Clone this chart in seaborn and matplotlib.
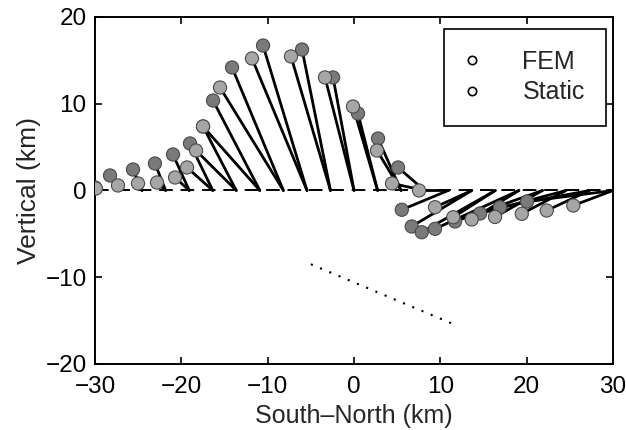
import numpy as np
import pandas as pd
import matplotlib
matplotlib.use('Agg')
import matplotlib.pyplot as plt
from matplotlib.lines import Line2D
import seaborn as sns

# surface points before deformation (km along profile, at zero height)
base_x = [-30.0, -27.27, -24.55, -21.82, -19.09, -16.36, -13.64, -10.91, -8.18, -5.45, -2.73, 0.0,
          2.73, 5.45, 8.18, 10.91, 13.64, 16.36, 19.09, 21.82, 24.55, 27.27, 30.0]

# displaced positions, FEM solution
fem_x = [-30.0, -28.26, -25.6, -23.06, -20.97, -19.0, -17.49, -16.33, -14.13, -10.54, -6.02, -2.43,
         0.46, 2.78, 5.10, 5.53, 6.68, 7.84, 9.38, 11.70, 14.6, 16.91, 20.04]
fem_y = [0.35, 1.73, 2.42, 3.11, 4.15, 5.42, 7.38, 10.37, 14.18, 16.71, 16.25, 13.03,
         8.88, 5.99, 2.65, -2.22, -4.15, -4.81, -4.42, -3.57, -2.65, -1.93, -1.27]

# displaced positions, static solution
static_x = [-29.9, -27.34, -25.02, -22.82, -20.73, -19.34, -18.3, -17.49, -15.52, -11.82, -7.30, -3.36,
            -0.12, 2.66, 4.40, 7.53, 9.38, 11.50, 13.63, 16.33, 19.43, 22.32, 25.40]
static_y = [0.23, 0.58, 0.81, 0.92, 1.5, 2.65, 4.61, 7.38, 11.87, 15.22, 15.45, 13.03,
            9.68, 4.61, 0.81, 0.0, -1.93, -3.08, -3.34, -3.05, -2.69, -2.31, -1.73]

# dotted fault trace
fault_x = [-5.0, 11.5]
fault_y = [-8.5, -15.4]

sns.set_theme(style='ticks')
plt.rcParams['font.family'] = ['Liberation Sans', 'DejaVu Sans']

# long-form table of the displacement segments
rows = []
for i, x0 in enumerate(base_x):
    for name, xs, ys in [('FEM', fem_x, fem_y), ('Static', static_x, static_y)]:
        seg = f'{name}_{i}'
        rows.append({'x': x0, 'y': 0.0, 'seg': seg, 'model': name})
        rows.append({'x': xs[i], 'y': ys[i], 'seg': seg, 'model': name})
seg_df = pd.DataFrame(rows)

pts_df = pd.DataFrame({
    'x': fem_x + static_x,
    'y': fem_y + static_y,
    'model': ['FEM'] * len(fem_x) + ['Static'] * len(static_x),
})

fig = plt.figure(figsize=(6.26, 4.30), dpi=100)
ax = fig.add_axes([0.1518, 0.1535, 0.8275, 0.807])

# undeformed surface
ax.plot([base_x[0], base_x[-1]], [0, 0], color='black', lw=1.4, dashes=(7, 4), zorder=1)

sns.lineplot(data=seg_df, x='x', y='y', units='seg', estimator=None, sort=False,
             color='black', lw=2.0, ax=ax, legend=False, zorder=2)

sns.scatterplot(data=pts_df, x='x', y='y', hue='model',
                palette={'FEM': '#7a7a7a', 'Static': '#a6a6a6'},
                s=90, edgecolor='#4a4a4a', linewidth=0.8, ax=ax, legend=False, zorder=3)

ax.plot(fault_x, fault_y, color='black', lw=1.5, linestyle=(0, (1, 3.8)), zorder=1)

ax.set_xlim(-30, 30)
ax.set_ylim(-20, 20)
ax.set_xticks([-30, -20, -10, 0, 10, 20, 30])
ax.set_yticks([-20, -10, 0, 10, 20])
ax.set_xlabel('South\u2013North (km)', fontsize=18, labelpad=4)
ax.set_ylabel('Vertical (km)', fontsize=19, labelpad=3)
ax.tick_params(direction='in', length=5, width=1.2, labelsize=17.5, top=True, right=True,
               color='black', labelcolor='black')
ax.tick_params(axis='x', pad=9)
ax.tick_params(axis='y', pad=6)
for sp in ax.spines.values():
    sp.set_visible(True)
    sp.set_color('black')
    sp.set_linewidth(1.4)

handles = [Line2D([], [], marker='o', ls='none', mfc='white', mec='black', ms=6, mew=1.2),
           Line2D([], [], marker='o', ls='none', mfc='white', mec='black', ms=6, mew=1.2)]
leg = ax.legend(handles, ['FEM', 'Static'], loc='upper right', bbox_to_anchor=(0.9865, 0.9654),
                borderaxespad=0, fontsize=18, frameon=True, fancybox=False, framealpha=1,
                edgecolor='black', borderpad=0.85, handlelength=0.6, handletextpad=1.7,
                labelspacing=0.25)
leg.get_frame().set_linewidth(1.2)

plt.savefig('out.png', dpi=100)
